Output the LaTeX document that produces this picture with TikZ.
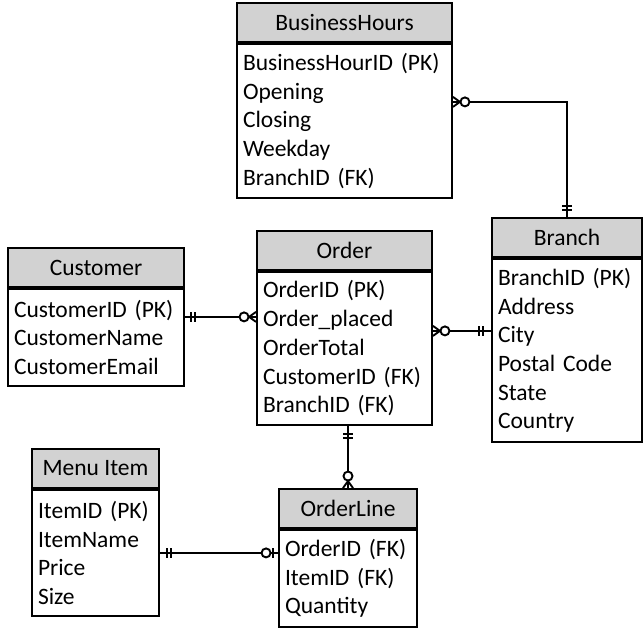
\documentclass[tikz,border=0pt]{standalone}
\usepackage{fontspec}
\setmainfont{Carlito}
\usetikzlibrary{positioning}

\begin{document}
\begin{tikzpicture}[x=1pt,y=1pt,
    enthead/.style={draw,fill=gray!35,line width=1.9pt,minimum height=39pt,inner sep=0pt,font=\fontsize{23.5}{28.7}\selectfont},
    entbody/.style={draw,fill=white,line width=1.9pt,inner xsep=6pt,inner ysep=0pt,align=left,font=\fontsize{23.5}{28.7}\selectfont},
    rel/.style={line width=1.9pt},
    ring/.style={circle,draw,fill=white,line width=1.9pt,minimum size=9pt,inner sep=0pt}]
    \useasboundingbox (0,0) rectangle (644,632);

    % entities
    \node[enthead,minimum width=215pt] (bhhead) at (344.5,609.5) {BusinessHours};
    \node[entbody,below=0pt of bhhead,text width=203pt,minimum height=154pt] (bhbody)
        {BusinessHourID (PK)\\Opening\\Closing\\Weekday\\BranchID (FK)};

    \node[enthead,minimum width=176pt] (custhead) at (96,364.5) {Customer};
    \node[entbody,below=0pt of custhead,text width=164pt,minimum height=97pt] (custbody)
        {CustomerID (PK)\\CustomerName\\CustomerEmail};

    \node[enthead,minimum width=175pt] (ordhead) at (344.5,381.5) {Order};
    \node[entbody,below=0pt of ordhead,text width=163pt,minimum height=153pt] (ordbody)
        {OrderID (PK)\\Order\_placed\\OrderTotal\\CustomerID (FK)\\BranchID (FK)};

    \node[enthead,minimum width=150pt] (brhead) at (567,394.5) {Branch};
    \node[entbody,below=0pt of brhead,text width=138pt,minimum height=183pt] (brbody)
        {BranchID (PK)\\Address\\City\\Postal Code\\State\\Country};

    \node[enthead,minimum width=127pt] (menuhead) at (95.5,163.5) {Menu Item};
    \node[entbody,below=0pt of menuhead,text width=115pt,minimum height=126pt] (menubody)
        {ItemID (PK)\\ItemName\\Price\\Size};

    \node[enthead,minimum width=138pt] (olhead) at (348,123.5) {OrderLine};
    \node[entbody,below=0pt of olhead,text width=126pt,minimum height=97pt] (olbody)
        {OrderID (FK)\\ItemID (FK)\\Quantity};

    % BusinessHours -- Branch
    \coordinate (bhout) at ([yshift=19pt]bhbody.east);
    \draw[rel] (bhout) -| (brhead.north);
    \draw[rel] ([yshift=5pt]bhout) -- ([xshift=7pt]bhout) -- ([yshift=-5pt]bhout);
    \node[ring] (bhring) at ([xshift=12pt]bhout) {};
    \foreach \d in {7,11}
        \draw[rel] ([yshift=\d pt]brhead.north) +(-5,0) -- +(5,0);

    % Customer -- Order
    \coordinate (custout) at ([yshift=20.5pt]custbody.east);
    \coordinate (ordin) at (custout -| ordbody.west);
    \draw[rel] (custout) -- (ordin);
    \foreach \d in {6,10}
        \draw[rel] ([xshift=\d pt]custout) +(0,-5) -- +(0,5);
    \draw[rel] ([yshift=5pt]ordin) -- ([xshift=-7pt]ordin) -- ([yshift=-5pt]ordin);
    \node[ring] (custring) at ([xshift=-12pt]ordin) {};

    % Order -- Branch
    \coordinate (ordout) at ([yshift=17.5pt]ordbody.east);
    \coordinate (brin) at (ordout -| brbody.west);
    \draw[rel] (ordout) -- (brin);
    \draw[rel] ([yshift=5pt]ordout) -- ([xshift=7pt]ordout) -- ([yshift=-5pt]ordout);
    \node[ring] (ordring) at ([xshift=12pt]ordout) {};
    \foreach \d in {8,12}
        \draw[rel] ([xshift=-\d pt]brin) +(0,-5) -- +(0,5);

    % Order -- OrderLine
    \coordinate (olin) at (olhead.north);
    \coordinate (ordbot) at (olin |- ordbody.south);
    \draw[rel] (ordbot) -- (olin);
    \foreach \d in {8,12}
        \draw[rel] ([yshift=-\d pt]ordbot) +(-5,0) -- +(5,0);
    \draw[rel] ([xshift=-5pt]olin) -- ([yshift=7pt]olin) -- ([xshift=5pt]olin);
    \node[ring] (olring) at ([yshift=12pt]olin) {};

    % Menu Item -- OrderLine
    \coordinate (menuout) at (menubody.east);
    \coordinate (olleft) at (menuout -| olbody.west);
    \draw[rel] (menuout) -- (olleft);
    \foreach \d in {7,11}
        \draw[rel] ([xshift=\d pt]menuout) +(0,-5) -- +(0,5);
    \draw[rel] ([xshift=-5pt]olleft) +(0,-5) -- +(0,5);
    \node[ring] (menuring) at ([xshift=-12pt]olleft) {};
\end{tikzpicture}
\end{document}
